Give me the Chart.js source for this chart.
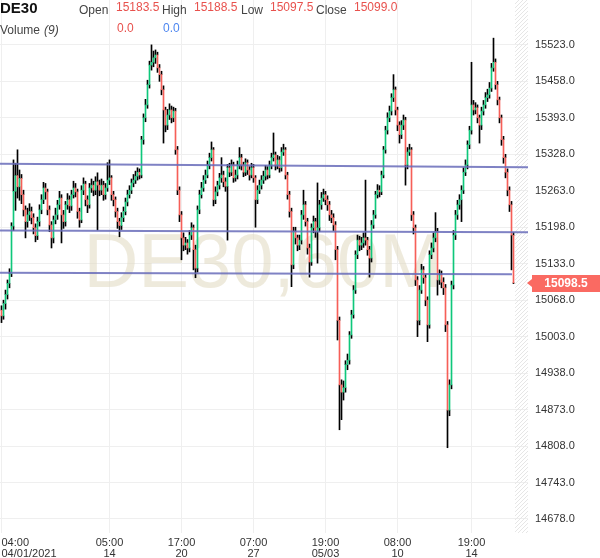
<!DOCTYPE html>
<html>
<head>
<meta charset="utf-8">
<script src="https://cdn.jsdelivr.net/npm/chart.js@4.4.1/dist/chart.umd.min.js"></script>
<style>
  html, body { margin: 0; padding: 0; background: #fff; overflow: hidden; }
  #wrap { width: 600px; height: 558px; position: relative; }
</style>
</head>
<body>
<div id="wrap"><canvas id="chart" width="600" height="558"></canvas></div>
<script>
// DE30, 60M candles (one per index)
const opens = [
  15050, 15040, 15062, 15078, 15098, 15115, 15200, 15262, 15290, 15270,
  15285, 15256, 15229, 15208, 15220, 15226, 15215, 15197, 15183, 15208,
  15229, 15247, 15268, 15261, 15229, 15202, 15179, 15211, 15220, 15238,
  15250, 15220, 15208, 15238, 15247, 15236, 15256, 15268, 15261, 15226,
  15211, 15264, 15275, 15247, 15238, 15268, 15273, 15264, 15279, 15273,
  15264, 15273, 15256, 15268, 15282, 15286, 15256, 15247, 15226, 15208,
  15201, 15215, 15226, 15243, 15256, 15264, 15277, 15282, 15289, 15296,
  15291, 15354, 15393, 15416, 15452, 15487, 15492, 15500, 15505, 15482,
  15470, 15443, 15407, 15380, 15398, 15407, 15393, 15405, 15336, 15264,
  15220, 15179, 15166, 15170, 15161, 15184, 15197, 15158, 15125, 15229,
  15256, 15268, 15282, 15291, 15309, 15322, 15336, 15247, 15261, 15273,
  15286, 15291, 15279, 15271, 15304, 15296, 15309, 15286, 15291, 15309,
  15322, 15309, 15296, 15313, 15300, 15291, 15304, 15286, 15247, 15264,
  15273, 15282, 15289, 15300, 15291, 15309, 15322, 15327, 15309, 15318,
  15304, 15332, 15336, 15291, 15256, 15226, 15131, 15190, 15179, 15166,
  15175, 15220, 15238, 15208, 15161, 15136, 15197, 15208, 15190, 15197,
  15238, 15250, 15256, 15247, 15238, 15220, 15215, 15202, 15158, 15032,
  14917, 14904, 14912, 14953, 14961, 15006, 15042, 15086, 15149, 15175,
  15166, 15170, 15179, 15175, 15158, 15143, 15202, 15220, 15256, 15264,
  15261, 15291, 15336, 15371, 15393, 15405, 15429, 15443, 15407, 15380,
  15363, 15380, 15389, 15309, 15332, 15336, 15220, 15197, 15104, 15032,
  15086, 15122, 15108, 15068, 15024, 15149, 15161, 15179, 15190, 15104,
  15113, 15100, 15090, 15024, 14872, 14917, 15095, 15184, 15220, 15238,
  15247, 15264, 15296, 15309, 15345, 15371, 15416, 15407, 15411, 15393,
  15380, 15405, 15416, 15429, 15434, 15446, 15482, 15492, 15452, 15425,
  15393, 15354, 15322, 15296, 15264, 15238, 15183.5
];
const highs = [
  15058, 15068, 15086, 15104, 15124, 15206, 15318, 15312, 15336, 15300,
  15292, 15264, 15236, 15232, 15240, 15234, 15222, 15204, 15216, 15238,
  15256, 15278, 15276, 15266, 15236, 15208, 15218, 15232, 15246, 15262,
  15256, 15228, 15244, 15258, 15254, 15264, 15280, 15276, 15266, 15232,
  15272, 15286, 15280, 15254, 15276, 15284, 15280, 15288, 15295, 15282,
  15284, 15280, 15276, 15313, 15318, 15290, 15262, 15252, 15232, 15214,
  15224, 15234, 15250, 15264, 15272, 15284, 15292, 15298, 15304, 15302,
  15360, 15400, 15426, 15460, 15494, 15523, 15512, 15514, 15510, 15488,
  15476, 15450, 15412, 15408, 15418, 15414, 15412, 15410, 15342, 15270,
  15226, 15188, 15180, 15176, 15192, 15206, 15202, 15166, 15236, 15264,
  15278, 15290, 15300, 15316, 15330, 15350, 15340, 15270, 15280, 15294,
  15322, 15298, 15286, 15310, 15312, 15318, 15314, 15300, 15316, 15340,
  15328, 15314, 15320, 15318, 15306, 15312, 15310, 15290, 15272, 15282,
  15290, 15298, 15308, 15306, 15316, 15330, 15366, 15332, 15326, 15324,
  15340, 15346, 15340, 15296, 15262, 15232, 15198, 15198, 15184, 15184,
  15228, 15264, 15244, 15214, 15168, 15204, 15218, 15214, 15277, 15246,
  15260, 15266, 15262, 15254, 15244, 15228, 15222, 15208, 15164, 15038,
  14926, 14924, 14960, 14972, 15012, 15050, 15094, 15156, 15184, 15182,
  15180, 15188, 15282, 15180, 15164, 15210, 15228, 15262, 15274, 15272,
  15298, 15342, 15378, 15402, 15414, 15436, 15470, 15448, 15412, 15386,
  15388, 15398, 15394, 15340, 15346, 15340, 15226, 15202, 15110, 15094,
  15132, 15128, 15114, 15074, 15156, 15170, 15188, 15224, 15196, 15122,
  15120, 15108, 15096, 15030, 14926, 15102, 15192, 15228, 15246, 15256,
  15272, 15304, 15318, 15352, 15378, 15492, 15424, 15420, 15416, 15398,
  15412, 15424, 15438, 15444, 15456, 15490, 15535, 15498, 15458, 15430,
  15398, 15360, 15328, 15302, 15270, 15244, 15188.5
];
const lows = [
  15028, 15034, 15052, 15070, 15090, 15110, 15192, 15228, 15250, 15246,
  15240, 15218, 15179, 15198, 15210, 15204, 15186, 15172, 15176, 15200,
  15222, 15240, 15248, 15220, 15190, 15161, 15170, 15204, 15212, 15230,
  15170, 15196, 15200, 15230, 15224, 15228, 15250, 15252, 15214, 15198,
  15206, 15256, 15236, 15224, 15232, 15260, 15254, 15256, 15193, 15254,
  15256, 15246, 15248, 15262, 15274, 15246, 15236, 15216, 15196, 15181,
  15194, 15208, 15220, 15236, 15250, 15258, 15270, 15276, 15282, 15284,
  15286, 15346, 15386, 15410, 15446, 15478, 15484, 15490, 15474, 15458,
  15434, 15348, 15368, 15372, 15390, 15384, 15386, 15328, 15256, 15208,
  15140, 15156, 15158, 15150, 15154, 15176, 15122, 15108, 15118, 15222,
  15250, 15262, 15276, 15286, 15302, 15316, 15236, 15240, 15254, 15266,
  15278, 15270, 15262, 15175, 15288, 15290, 15278, 15280, 15284, 15302,
  15300, 15288, 15290, 15292, 15282, 15286, 15278, 15198, 15240, 15258,
  15266, 15276, 15282, 15284, 15286, 15302, 15316, 15300, 15302, 15296,
  15298, 15326, 15284, 15248, 15216, 15092, 15124, 15168, 15156, 15158,
  15168, 15212, 15200, 15150, 15109, 15130, 15188, 15180, 15134, 15190,
  15230, 15244, 15238, 15228, 15210, 15206, 15192, 15140, 14997, 14837,
  14855, 14890, 14904, 14944, 14954, 15000, 15036, 15080, 15142, 15156,
  15158, 15162, 15166, 15148, 15109, 15136, 15196, 15214, 15250, 15252,
  15256, 15286, 15330, 15364, 15386, 15398, 15422, 15398, 15370, 15348,
  15356, 15372, 15273, 15302, 15326, 15210, 15186, 15094, 15003, 15024,
  15080, 15098, 15058, 14994, 15018, 15142, 15154, 15172, 15077, 15096,
  15090, 15078, 15012, 14805, 14862, 14910, 15088, 15176, 15212, 15230,
  15208, 15258, 15290, 15302, 15338, 15364, 15398, 15400, 15384, 15348,
  15372, 15398, 15410, 15422, 15428, 15440, 15476, 15444, 15416, 15384,
  15344, 15312, 15286, 15254, 15226, 15122, 15097.5
];
const closes = [
  15040, 15062, 15078, 15098, 15115, 15200, 15262, 15290, 15270, 15285,
  15256, 15229, 15208, 15220, 15226, 15215, 15197, 15183, 15208, 15229,
  15247, 15268, 15261, 15229, 15202, 15179, 15211, 15220, 15238, 15250,
  15220, 15208, 15238, 15247, 15236, 15256, 15268, 15261, 15226, 15211,
  15264, 15275, 15247, 15238, 15268, 15273, 15264, 15279, 15273, 15264,
  15273, 15256, 15268, 15282, 15286, 15256, 15247, 15226, 15208, 15201,
  15215, 15226, 15243, 15256, 15264, 15277, 15282, 15289, 15296, 15291,
  15354, 15393, 15416, 15452, 15487, 15492, 15500, 15505, 15482, 15470,
  15443, 15407, 15380, 15398, 15407, 15393, 15405, 15336, 15264, 15220,
  15179, 15166, 15170, 15161, 15184, 15197, 15158, 15125, 15229, 15256,
  15268, 15282, 15291, 15309, 15322, 15336, 15247, 15261, 15273, 15286,
  15291, 15279, 15271, 15304, 15296, 15309, 15286, 15291, 15309, 15322,
  15309, 15296, 15313, 15300, 15291, 15304, 15286, 15247, 15264, 15273,
  15282, 15289, 15300, 15291, 15309, 15322, 15327, 15309, 15318, 15304,
  15332, 15336, 15291, 15256, 15226, 15131, 15190, 15179, 15166, 15175,
  15220, 15238, 15208, 15161, 15136, 15197, 15208, 15190, 15197, 15238,
  15250, 15256, 15247, 15238, 15220, 15215, 15202, 15158, 15032, 14917,
  14904, 14912, 14953, 14961, 15006, 15042, 15086, 15149, 15175, 15166,
  15170, 15179, 15175, 15158, 15143, 15202, 15220, 15256, 15264, 15261,
  15291, 15336, 15371, 15393, 15405, 15429, 15443, 15407, 15380, 15363,
  15380, 15389, 15309, 15332, 15336, 15220, 15197, 15104, 15032, 15086,
  15122, 15108, 15068, 15024, 15149, 15161, 15179, 15190, 15104, 15113,
  15100, 15090, 15024, 14872, 14917, 15095, 15184, 15220, 15238, 15247,
  15264, 15296, 15309, 15345, 15371, 15416, 15407, 15411, 15393, 15380,
  15405, 15416, 15429, 15434, 15446, 15482, 15492, 15452, 15425, 15393,
  15354, 15322, 15296, 15264, 15238, 15184, 15099.0
];

// time axis: candle index of each tick and its two-line label
const timeTickIdx = [0, 54, 90, 126, 162, 198, 235];
const timeTickLabels = [
  ['04:00', '04/01/2021'], ['05:00', '14'], ['17:00', '20'], ['07:00', '27'],
  ['19:00', '05/03'], ['08:00', '10'], ['19:00', '14']
];
const priceTicks = [14678, 14743, 14808, 14873, 14938, 15003, 15068, 15133,
                    15198, 15263, 15328, 15393, 15458, 15523];

// drawn trend lines: [startIdx, startPrice, endIdx, endPrice]
const trendLines = [
  [-0.75, 15311, 263.25, 15305],
  [-0.75, 15192, 263.25, 15189],
  [-0.75, 15117, 255.25, 15114]
];

const lastPrice = 15098.5;
const header = { open: '15183.5', high: '15188.5', low: '15097.5', close: '15099.0' };

const GREEN = '#0fc77b';
const RED = '#f65f58';
const FONT = "'Liberation Sans', Arial, sans-serif";

// wicks split above/below the body so the coloured body is never covered
const upperWick = opens.map((o, i) => ({ x: i, y: [Math.max(o, closes[i]), highs[i]] }));
const lowerWick = opens.map((o, i) => ({ x: i, y: [lows[i], Math.min(o, closes[i])] }));
const bodyData = opens.map((o, i) => ({ x: i, y: [o, closes[i]] }));
const bodyColors = opens.map((o, i) => closes[i] >= o ? GREEN : RED);

const lineSets = trendLines.map(t => ({
  type: 'line',
  data: [{ x: t[0], y: t[1] }, { x: t[2], y: t[3] }],
  borderColor: 'rgba(104,108,186,0.85)',
  borderWidth: 2,
  pointRadius: 0,
  order: 0
}));

function barSet(data, color) {
  return {
    data: data,
    backgroundColor: color,
    barThickness: 1,
    grouped: false,
    borderWidth: 0,
    order: 1
  };
}

// pad first label so it starts at the left edge instead of being centred
function padLeft(s) {
  return ' '.repeat(Math.round(s.length * 1.8)) + s;
}

const decorPlugin = {
  id: 'decor',
  beforeDatasetsDraw(chart) {
    const { ctx, chartArea, scales } = chart;
    ctx.save();
    // watermark
    ctx.font = '76px ' + FONT;
    ctx.fillStyle = 'rgba(224,216,192,0.55)';
    ctx.textAlign = 'center';
    ctx.textBaseline = 'alphabetic';
    ctx.fillText('DE30,60M', 263, 287);
    // hatched zone right of the last candle
    const x0 = scales.x.getPixelForValue(opens.length - 0.25);
    const x1 = chartArea.right;
    ctx.beginPath();
    ctx.rect(x0, chartArea.top, x1 - x0, chartArea.bottom - chartArea.top);
    ctx.clip();
    ctx.strokeStyle = '#e6e6e6';
    ctx.lineWidth = 1;
    for (let y = chartArea.top - 20; y < chartArea.bottom + 40; y += 4) {
      ctx.beginPath();
      ctx.moveTo(x0, y + 20);
      ctx.lineTo(x0 + 20, y);
      ctx.stroke();
    }
    ctx.restore();
  },
  afterDraw(chart) {
    const { ctx, chartArea, scales } = chart;
    ctx.save();
    ctx.textAlign = 'left';
    ctx.textBaseline = 'alphabetic';
    ctx.fillStyle = '#111';
    ctx.font = 'bold 15px ' + FONT;
    ctx.fillText('DE30', 0, 13);

    ctx.font = '12px ' + FONT;
    ctx.fillStyle = '#444';
    ctx.fillText('Open', 79, 13.5);
    ctx.fillText('High', 162, 13.5);
    ctx.fillText('Low', 241, 13.5);
    ctx.fillText('Close', 316, 13.5);
    ctx.fillText('Volume', 0, 34);
    ctx.font = 'italic 12px ' + FONT;
    ctx.fillText('(9)', 44, 34);

    ctx.font = '12px ' + FONT;
    ctx.fillStyle = '#e8514d';
    ctx.fillText(header.open, 116, 10.5);
    ctx.fillText(header.high, 194, 10.5);
    ctx.fillText(header.low, 270, 10.5);
    ctx.fillText(header.close, 354, 10.5);
    ctx.fillText('0.0', 117, 32);
    ctx.fillStyle = '#4d86f0';
    ctx.fillText('0.0', 163, 32);

    // last price tag on the price axis
    const py = scales.y.getPixelForValue(lastPrice);
    const tx = chartArea.right + 4;
    ctx.fillStyle = '#fa6a62';
    ctx.beginPath();
    ctx.moveTo(tx - 5, py);
    ctx.lineTo(tx, py - 4);
    ctx.lineTo(tx, py - 8);
    ctx.lineTo(600, py - 8);
    ctx.lineTo(600, py + 9);
    ctx.lineTo(tx, py + 9);
    ctx.lineTo(tx, py + 4);
    ctx.closePath();
    ctx.fill();
    ctx.fillStyle = '#fff';
    ctx.font = 'bold 12px ' + FONT;
    ctx.textAlign = 'center';
    ctx.textBaseline = 'middle';
    ctx.fillText(lastPrice.toFixed(1), 566, py + 1);
    ctx.restore();
  }
};

new Chart(document.getElementById('chart').getContext('2d'), {
  type: 'bar',
  data: {
    datasets: [
      ...lineSets,
      barSet(bodyData, bodyColors),
      barSet(upperWick, '#000'),
      barSet(lowerWick, '#000')
    ]
  },
  options: {
    responsive: false,
    animation: false,
    layout: { padding: 0 },
    plugins: {
      legend: { display: false },
      tooltip: { enabled: false }
    },
    scales: {
      x: {
        type: 'linear',
        min: -0.75,
        max: 263.25,
        offset: false,
        grid: { color: '#efefef', drawTicks: false, offset: false },
        border: { display: false },
        ticks: {
          autoSkip: false,
          maxRotation: 0,
          padding: 5,
          color: '#333',
          font: { family: FONT, size: 11, lineHeight: 0.95 },
          callback: function(value) {
            const k = timeTickIdx.indexOf(value);
            if (k < 0) return '';
            const lbl = timeTickLabels[k];
            return k === 0 ? lbl.map(padLeft) : lbl;
          }
        },
        afterBuildTicks: s => { s.ticks = timeTickIdx.map(v => ({ value: v })); },
        afterFit: s => { s.height = 25; s.paddingLeft = 0; s.paddingRight = 0; }
      },
      y: {
        position: 'right',
        min: 14653,
        max: 15603,
        grid: { color: '#efefef', drawTicks: false },
        border: { display: false },
        ticks: {
          padding: 7,
          color: '#333',
          font: { family: FONT, size: 11 },
          callback: v => Number(v).toFixed(1)
        },
        afterBuildTicks: s => { s.ticks = priceTicks.map(v => ({ value: v })); },
        afterFit: s => { s.width = 72; s.paddingTop = 0; s.paddingBottom = 0; }
      }
    }
  },
  plugins: [decorPlugin]
});
</script>
</body>
</html>
